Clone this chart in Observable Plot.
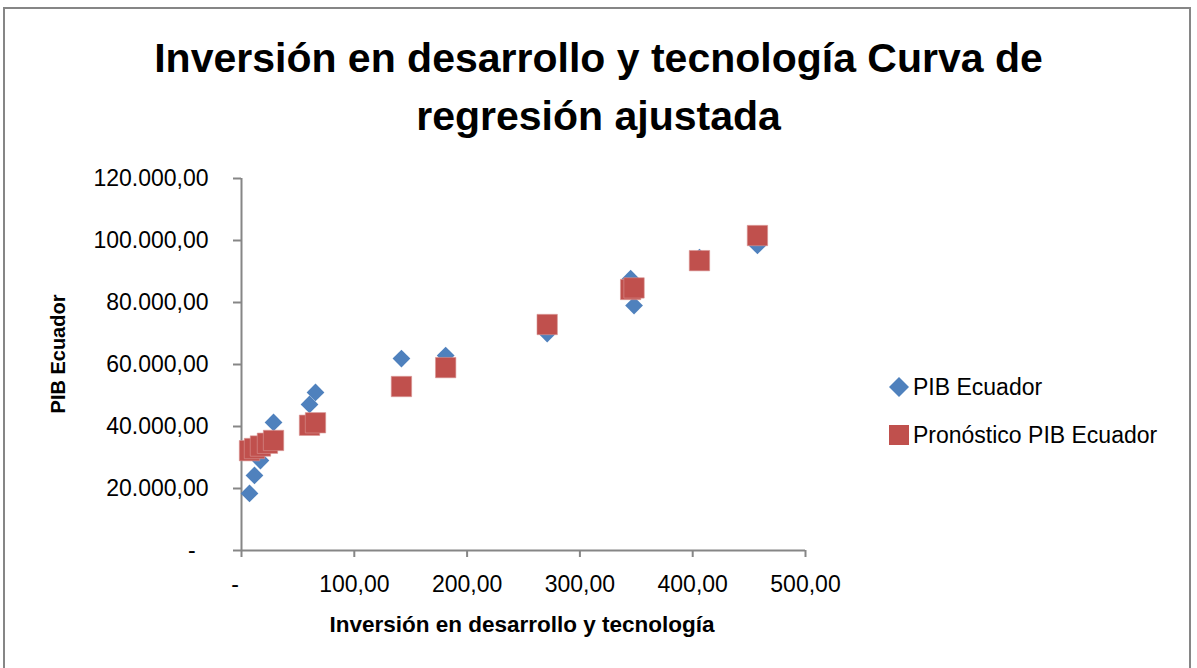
<!DOCTYPE html>
<html>
<head>
<meta charset="utf-8">
<script src="https://cdn.jsdelivr.net/npm/d3@7"></script>
<script src="https://cdn.jsdelivr.net/npm/@observablehq/plot@0.6"></script>
<style>
  html, body { margin: 0; padding: 0; background: #fff; }
  body { width: 1197px; height: 668px; overflow: hidden; position: relative; font-family: "Liberation Sans", Arial, sans-serif; }
  #frame { position: absolute; left: 3px; top: 7px; width: 1188px; height: 720px; border: 2px solid #868686; box-sizing: border-box; }
  #title { position: absolute; left: 0; top: 29px; width: 1197px; text-align: center; font-weight: bold; font-size: 41px; line-height: 58px; color: #000; }
  #chart { position: absolute; left: 0; top: 150px; }
  #ytitle { position: absolute; left: 58px; top: 354px; transform: translate(-50%, -50%) rotate(-90deg); font-weight: bold; font-size: 20px; white-space: nowrap; }
  #xtitle { position: absolute; left: 522px; top: 625px; transform: translate(-50%, -50%); font-weight: bold; font-size: 22.5px; white-space: nowrap; }
  .leg { position: absolute; left: 888px; height: 22px; display: flex; align-items: center; font-size: 23px; line-height: 22px; white-space: nowrap; }
  .leg svg { margin-right: 3px; }
</style>
</head>
<body>
<div id="frame"></div>
<div id="title">Inversión en desarrollo y tecnología Curva de<br>regresión ajustada</div>
<div id="chart"></div>
<div id="ytitle">PIB Ecuador</div>
<div id="xtitle">Inversión en desarrollo y tecnología</div>
<div class="leg" style="top:376px"><svg width="22" height="22"><polygon points="11,1 21,11 11,21 1,11" fill="#4F81BD"/></svg>PIB Ecuador</div>
<div class="leg" style="top:424px"><svg width="22" height="22"><rect x="1" y="1" width="20" height="20" fill="#C0504D"/></svg>Pronóstico PIB Ecuador</div>
<script>
// Data
const inversion  = [7.1, 11.5, 16.8, 23.0, 28.4, 60.3, 65.6, 141.8, 181.0, 271.0, 345.0, 348.0, 406.0, 457.4];
const pibEcuador = [18400, 24200, 29000, 33300, 41300, 47100, 51000, 61900, 62900, 70000, 87700, 79000, 94500, 98400];
const pronostico = [32200, 32900, 33700, 34600, 35500, 40400, 41200, 52900, 59000, 72900, 84200, 84700, 93500, 101600];
const xTicks = [0, 100, 200, 300, 400, 500];
const yTicks = [0, 20000, 40000, 60000, 80000, 100000, 120000];

const loc = d3.formatLocale({decimal: ",", thousands: ".", grouping: [3], currency: ["", ""]});
const f2 = loc.format(",.2f");
const fmtX = d => d === 0 ? "-\u00a0\u00a0" : f2(d);
const fmtY = d => d === 0 ? "-\u00a0\u00a0" : f2(d);

const blue = inversion.map((x, i) => ({x, y: pibEcuador[i]}));
const red = inversion.map((x, i) => ({x, y: pronostico[i]}));

const gray = "#868686";
const chart = Plot.plot({
  width: 1197,
  height: 518,
  marginLeft: 241,
  marginRight: 392,
  marginTop: 28,
  marginBottom: 118,
  style: {fontFamily: "Liberation Sans, Arial, sans-serif", fontSize: "23px", color: "#000", background: "transparent"},
  x: {domain: [0, 500]},
  y: {domain: [0, 120000]},
  marks: [
    Plot.axisX(xTicks, {tickSize: 7, tickPadding: 18, tickFormat: fmtX, stroke: gray, strokeWidth: 2, fill: "#000", label: null, fontSize: 23}),
    Plot.axisY(yTicks, {tickSize: 8, tickPadding: 25, tickFormat: fmtY, stroke: gray, strokeWidth: 2, fill: "#000", label: null, fontSize: 23}),
    Plot.ruleY([0], {stroke: gray, strokeWidth: 2}),
    Plot.ruleX([0], {stroke: gray, strokeWidth: 2}),
    Plot.dot(blue, {x: "x", y: "y", symbol: "diamond2", r: 8, fill: "#4F81BD", stroke: "none"}),
    Plot.dot(red, {x: "x", y: "y", symbol: "square", r: 11.5, fill: "#C0504D", stroke: "#D99694", strokeWidth: 0.6})
  ]
});
document.getElementById("chart").appendChild(chart);
</script>
</body>
</html>
